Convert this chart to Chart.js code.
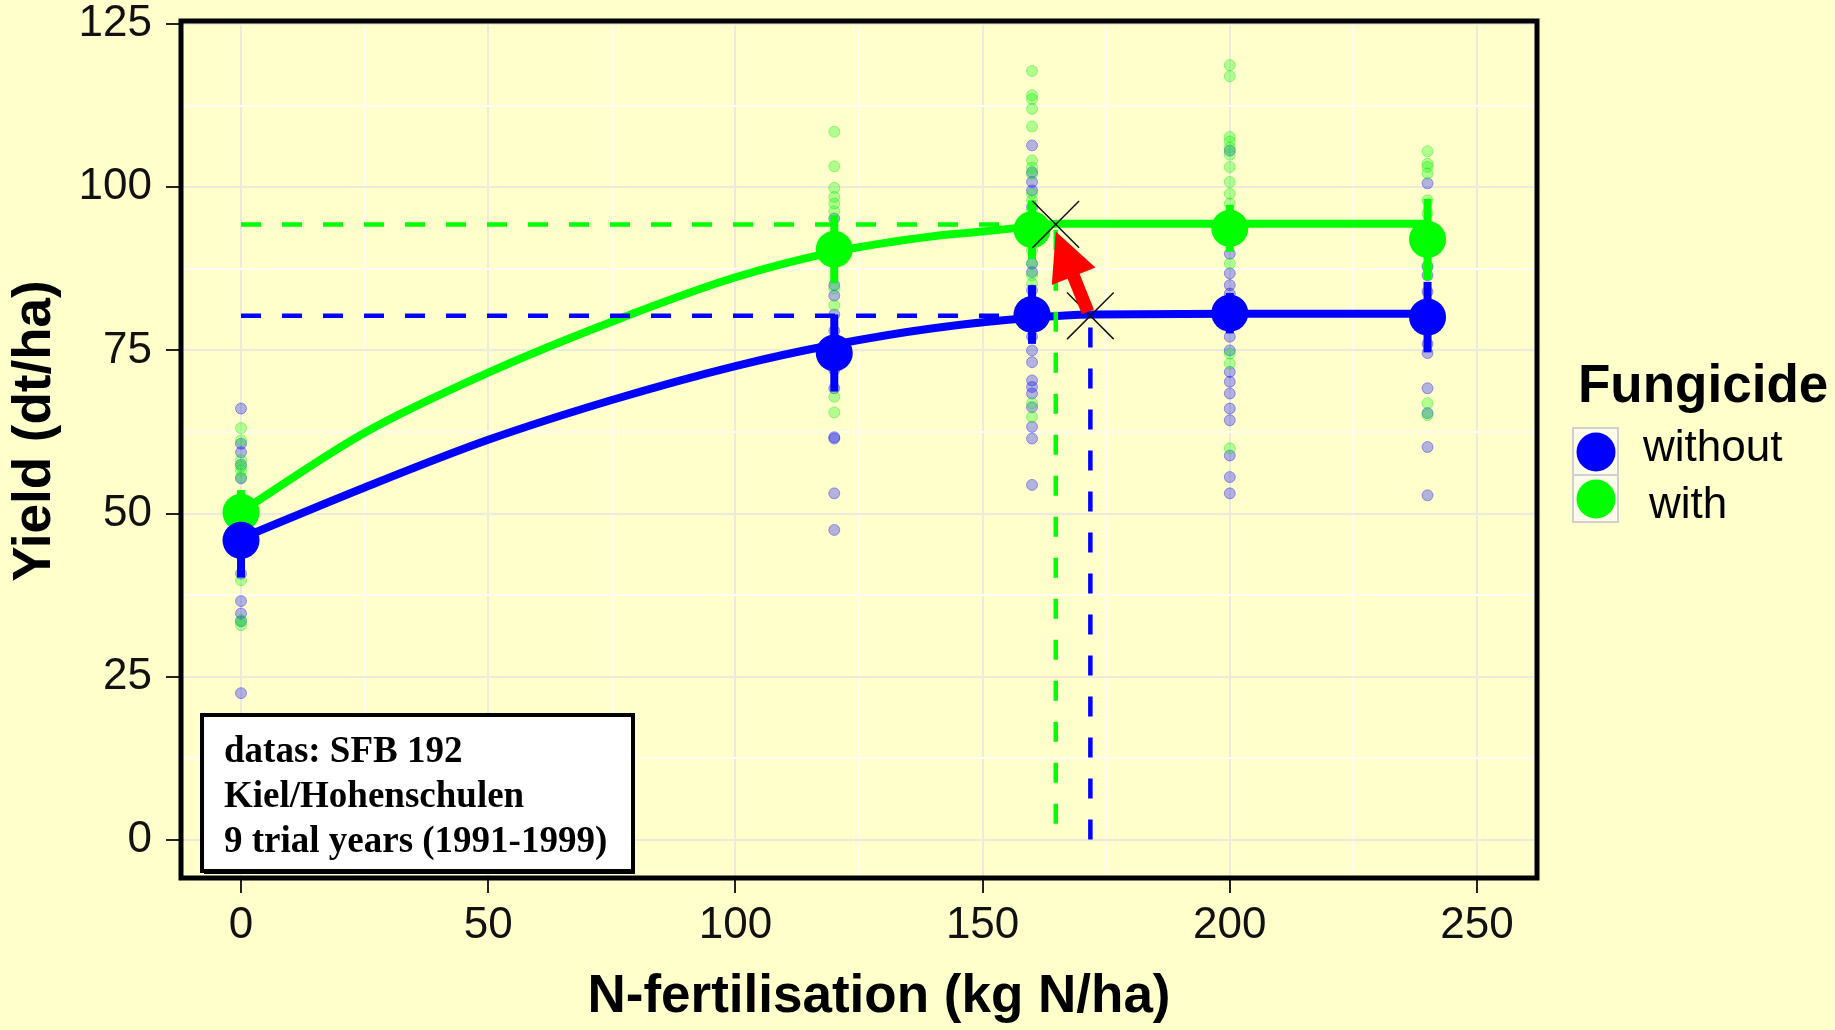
<!DOCTYPE html>
<html>
<head>
    <title>Yield response to N fertilisation</title>
    <script src="https://cdn.jsdelivr.net/npm/chart.js"></script>
    <style>
        body { margin: 0; background: #ffffcc; }
        #wrap { position: relative; width: 1835px; height: 1030px; }
    </style>
</head>
<body>
    <div id="wrap"><canvas id="yieldChart" width="1835" height="1030"></canvas></div>

    <script>
        // N levels of the trial and treatment means
        const nLevels = [0, 120, 160, 200, 240];
        const meanWithout = [45.9, 74.6, 80.5, 80.7, 80.1];
        const meanWith = [50.2, 90.5, 93.5, 93.7, 92.0];
        const errWithout = [5.7, 5.9, 4.5, 3.1, 5.4];
        const errWith = [3.4, 5.2, 4.5, 3.6, 6.2];

        // single plot yields per N level (same order as nLevels)
        const plotsWithout = [
            [66.1, 60.7, 59.4, 57.5, 55.4, 40.8, 36.6, 34.7, 33.5, 22.5],
            [95.2, 85.0, 83.4, 80.5, 78.0, 76.0, 72.0, 69.2, 61.7, 61.5, 53.1, 47.5],
            [106.4, 102.3, 100.8, 99.5, 97.0, 88.3, 87.0, 84.2, 77.1, 75.0, 73.2, 70.4, 69.4, 68.4, 66.3, 63.3, 61.5, 54.4],
            [105.6, 89.8, 86.8, 85.0, 83.7, 77.1, 75.0, 71.7, 70.2, 68.4, 66.1, 64.3, 58.9, 55.6, 53.1],
            [100.6, 87.8, 86.5, 84.0, 76.0, 74.6, 69.2, 65.4, 60.2, 52.8]
        ];
        const plotsWith = [
            [63.1, 61.2, 58.2, 57.2, 56.6, 55.6, 39.8, 33.7, 32.9],
            [108.5, 103.2, 99.9, 98.5, 97.5, 96.3, 84.5, 81.9, 67.9, 65.5],
            [117.8, 114.1, 113.5, 112.0, 109.3, 104.1, 103.0, 102.0, 99.0, 98.0, 96.5, 90.3, 88.3, 86.5, 85.2, 66.9, 64.8],
            [118.7, 117.0, 107.7, 107.0, 106.1, 105.0, 103.1, 100.8, 99.0, 97.5, 88.3, 74.5, 73.0, 60.0],
            [105.5, 103.6, 103.1, 102.1, 98.0, 96.0, 88.0, 66.9, 65.1]
        ];

        // fitted response curves
        const curveWithoutN = [0, 25, 50, 75, 100, 120, 140, 160, 172, 200, 240];
        const curveWithoutY = [46.2, 54.0, 61.3, 67.4, 72.6, 75.9, 78.4, 80.0, 80.5, 80.6, 80.6];
        const curveWithN = [0, 25, 50, 75, 100, 120, 140, 150, 160, 165, 200, 240];
        const curveWithY = [50.3, 62.4, 71.6, 79.4, 86.2, 90.1, 92.5, 93.2, 94.0, 94.4, 94.4, 94.4];

        // optimum N and yield (without, with)
        const optN = [171.8, 164.8];
        const optYield = [80.3, 94.3];
        const arrowFrom = [171.3, 80.9];
        const arrowTo = [164.8, 93.2];

        const seriesNames = ['without', 'with'];
        const legendTitle = 'Fungicide';
        const xTitle = 'N-fertilisation (kg N/ha)';
        const yTitle = 'Yield (dt/ha)';
        const noteLines = ['datas: SFB 192', 'Kiel/Hohenschulen', '9 trial years (1991-1999)'];

        const xTickLabels = [0, 50, 100, 150, 200, 250];
        const xGrid = [0, 25, 50, 75, 100, 125, 150, 175, 200, 225, 250];
        const yTickLabels = [0, 25, 50, 75, 100, 125];
        const yGrid = [0, 12.5, 25, 37.5, 50, 62.5, 75, 87.5, 100, 112.5, 125];

        const BLUE = '#0000ff';
        const GREEN = '#00ff00';
        const SANS = '"Liberation Sans", Arial, sans-serif';

        Chart.defaults.font.family = SANS;
        Chart.defaults.color = '#000';

        const toPoints = (xs, ys) => xs.map((x, i) => ({ x: x, y: ys[i] }));
        const plotPoints = plots => plots.flatMap((vals, i) => vals.map(v => ({ x: nLevels[i], y: v })));

        const extras = {
            id: 'extras',
            beforeDatasetDraw(chart, args) {
                if (args.meta.label !== 'curveWith') return;
                const { ctx, scales: { x, y } } = chart;
                ctx.save();
                ctx.lineWidth = 8;
                [[meanWith, errWith, GREEN], [meanWithout, errWithout, BLUE]].forEach(([m, e, col]) => {
                    ctx.strokeStyle = col;
                    nLevels.forEach((n, i) => {
                        const px = x.getPixelForValue(n);
                        ctx.beginPath();
                        ctx.moveTo(px, y.getPixelForValue(m[i] - e[i]));
                        ctx.lineTo(px, y.getPixelForValue(m[i] + e[i]));
                        ctx.stroke();
                    });
                });
                ctx.restore();
            },
            afterDatasetsDraw(chart) {
                const { ctx, scales: { x, y } } = chart;
                const x0 = x.getPixelForValue(arrowFrom[0]), y0 = y.getPixelForValue(arrowFrom[1]);
                const x1 = x.getPixelForValue(arrowTo[0]), y1 = y.getPixelForValue(arrowTo[1]);
                const len = Math.hypot(x1 - x0, y1 - y0);
                const ux = (x1 - x0) / len, uy = (y1 - y0) / len;
                const headLen = 48, headHalf = 23.5;
                const bx = x1 - ux * headLen, by = y1 - uy * headLen;
                ctx.save();
                ctx.strokeStyle = '#ff0000';
                ctx.fillStyle = '#ff0000';
                ctx.lineWidth = 13;
                ctx.beginPath();
                ctx.moveTo(x0, y0);
                ctx.lineTo(bx + ux * 2, by + uy * 2);
                ctx.stroke();
                ctx.beginPath();
                ctx.moveTo(x1, y1);
                ctx.lineTo(bx - uy * headHalf, by + ux * headHalf);
                ctx.lineTo(bx + uy * headHalf, by - ux * headHalf);
                ctx.closePath();
                ctx.fill();
                ctx.restore();
            },
            afterDraw(chart) {
                const { ctx, chartArea: a } = chart;
                ctx.save();
                // plot frame
                ctx.strokeStyle = '#000';
                ctx.lineWidth = 5;
                ctx.strokeRect(a.left, a.top, a.right - a.left, a.bottom - a.top);

                // axis titles
                ctx.fillStyle = '#000';
                ctx.font = 'bold 53px ' + SANS;
                ctx.textAlign = 'center';
                ctx.textBaseline = 'middle';
                ctx.fillText(xTitle, 879, 997);
                ctx.save();
                ctx.translate(35, 431);
                ctx.rotate(-Math.PI / 2);
                ctx.fillText(yTitle, 0, 0);
                ctx.restore();
                ctx.textAlign = 'left';

                // data source note
                const bxL = a.left + 21, bxT = a.bottom - 163, bw = 431, bh = 156;
                ctx.fillStyle = '#000';
                ctx.fillRect(bxL + 2, bxT + 3, bw, bh);
                ctx.fillStyle = '#fff';
                ctx.fillRect(bxL, bxT, bw, bh);
                ctx.lineWidth = 4;
                ctx.strokeRect(bxL, bxT, bw, bh);
                ctx.fillStyle = '#000';
                ctx.font = 'bold 37px "Liberation Serif", "Times New Roman", serif';
                ctx.textBaseline = 'alphabetic';
                noteLines.forEach((t, i) => ctx.fillText(t, bxL + 22, bxT + 47 + i * 45));

                // legend
                const lx = a.right + 36;
                ctx.font = 'bold 53px ' + SANS;
                ctx.fillText(legendTitle, lx + 5, 402);
                ctx.font = '44px ' + SANS;
                [BLUE, GREEN].forEach((col, i) => {
                    const top = 428 + i * 47;
                    ctx.fillStyle = '#fcfce8';
                    ctx.fillRect(lx, top, 45, 47);
                    ctx.strokeStyle = '#cfcfcf';
                    ctx.lineWidth = 2;
                    ctx.strokeRect(lx, top, 45, 47);
                    ctx.fillStyle = col;
                    ctx.beginPath();
                    ctx.arc(lx + 23, top + 24, 19.5, 0, Math.PI * 2);
                    ctx.fill();
                    ctx.fillStyle = '#000';
                    ctx.fillText(seriesNames[i], lx + 70 + i * 6, 461 + i * 57);
                });
                ctx.restore();
            }
        };

        const gridColor = (major) => (c) => major.includes(c.tick.value) ? '#ebebdc' : '#fcfcf2';
        const tickColor = (major) => (c) => major.includes(c.tick.value) ? '#222' : 'rgba(0,0,0,0)';

        const ctx = document.getElementById('yieldChart').getContext('2d');
        new Chart(ctx, {
            type: 'scatter',
            data: {
                datasets: [
                    { label: 'plotsWithout', data: plotPoints(plotsWithout), order: 10,
                      pointRadius: 5.5, pointBackgroundColor: 'rgba(0,0,255,0.3)', pointBorderColor: 'rgba(0,0,255,0.35)', pointBorderWidth: 1 },
                    { label: 'plotsWith', data: plotPoints(plotsWith), order: 9,
                      pointRadius: 5.5, pointBackgroundColor: 'rgba(0,255,0,0.3)', pointBorderColor: 'rgba(0,220,0,0.35)', pointBorderWidth: 1 },
                    { label: 'curveWith', data: toPoints(curveWithN, curveWithY), order: 7, showLine: true,
                      borderColor: GREEN, borderWidth: 8, pointRadius: 0, cubicInterpolationMode: 'monotone' },
                    { label: 'curveWithout', data: toPoints(curveWithoutN, curveWithoutY), order: 6, showLine: true,
                      borderColor: BLUE, borderWidth: 8, pointRadius: 0, cubicInterpolationMode: 'monotone' },
                    { label: seriesNames[1], data: toPoints(nLevels, meanWith), order: 5,
                      pointRadius: 18.5, pointBackgroundColor: GREEN, pointBorderWidth: 0 },
                    { label: seriesNames[0], data: toPoints(nLevels, meanWithout), order: 4,
                      pointRadius: 18.5, pointBackgroundColor: BLUE, pointBorderWidth: 0 },
                    { label: 'optWithout', order: 3, showLine: true, borderColor: BLUE, borderWidth: 4.5,
                      borderDash: [20, 21], pointRadius: 0,
                      data: [{ x: 0, y: optYield[0] }, { x: optN[0], y: optYield[0] }, { x: optN[0], y: 0 }] },
                    { label: 'optWith', order: 2, showLine: true, borderColor: GREEN, borderWidth: 4.5,
                      borderDash: [20, 21], pointRadius: 0,
                      data: [{ x: 0, y: optYield[1] }, { x: optN[1], y: optYield[1] }, { x: optN[1], y: 0 }] },
                    { label: 'optMarks', order: 1, data: toPoints(optN, optYield),
                      pointStyle: 'crossRot', pointRadius: 33, pointBorderColor: '#111', pointBorderWidth: 1.5 }
                ]
            },
            options: {
                responsive: false,
                animation: false,
                devicePixelRatio: 1,
                layout: { autoPadding: false, padding: { top: 21, right: 298, left: 0, bottom: 0 } },
                plugins: { legend: { display: false }, tooltip: { enabled: false } },
                scales: {
                    x: {
                        type: 'linear',
                        min: -12.14,
                        max: 262.14,
                        afterBuildTicks: s => { s.ticks = xGrid.map(v => ({ value: v })); },
                        afterFit: s => { s.height = 152; s.paddingLeft = 0; s.paddingRight = 0; },
                        border: { display: false },
                        grid: { color: gridColor(xTickLabels), lineWidth: 2, tickLength: 15,
                                tickColor: tickColor(xTickLabels), tickWidth: 2 },
                        ticks: { autoSkip: false, maxRotation: 0, padding: 6, color: '#111',
                                 font: { size: 44 },
                                 callback: v => xTickLabels.includes(v) ? String(v) : '' }
                    },
                    y: {
                        type: 'linear',
                        min: -5.82,
                        max: 125.46,
                        afterBuildTicks: s => { s.ticks = yGrid.map(v => ({ value: v })); },
                        afterFit: s => { s.width = 181; s.paddingTop = 0; s.paddingBottom = 0; },
                        border: { display: false },
                        grid: { color: gridColor(yTickLabels), lineWidth: 2, tickLength: 15,
                                tickColor: tickColor(yTickLabels), tickWidth: 2 },
                        ticks: { autoSkip: false, padding: 14, color: '#111',
                                 font: { size: 44 },
                                 callback: v => yTickLabels.includes(v) ? String(v) : '' }
                    }
                }
            },
            plugins: [extras]
        });
    </script>
</body>
</html>
